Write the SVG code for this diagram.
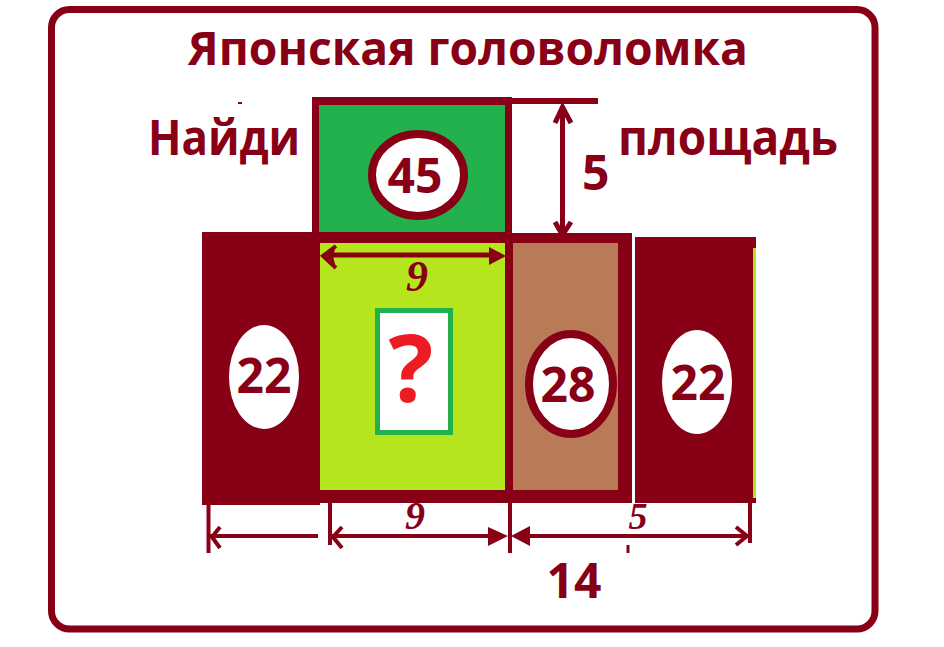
<svg xmlns="http://www.w3.org/2000/svg" width="944" height="647" viewBox="0 0 944 647">
<style>
.dr{fill:#880015}
.lbl{font-family:"Open Sans","Liberation Sans",sans-serif;font-weight:bold;fill:#880015}
.num{font-family:"Open Sans","Liberation Sans",sans-serif;font-weight:bold;fill:#880015;text-anchor:middle}
.it{font-family:"Liberation Serif","DejaVu Serif",serif;font-weight:bold;font-style:italic;fill:#880015;text-anchor:middle}
.ln{stroke:#880015;fill:none}
.ah{fill:#880015}
</style>
<rect x="51.5" y="9.5" width="823.5" height="619.5" rx="18" fill="#ffffff" stroke="#880015" stroke-width="7"/>
<text class="lbl" x="188" y="65" font-size="46" textLength="560" lengthAdjust="spacingAndGlyphs">Японская головоломка</text>
<text class="lbl" x="148" y="155" font-size="48" textLength="152" lengthAdjust="spacingAndGlyphs">Найди</text>
<text class="lbl" x="618" y="155" font-size="48" textLength="220" lengthAdjust="spacingAndGlyphs">площадь</text>
<rect x="238" y="102" width="4" height="2" class="dr"/>

<g id="box-green">
<rect x="312" y="97" width="200" height="146" class="dr"/>
<rect x="319" y="105" width="186" height="127" fill="#22B14C"/>
<ellipse cx="418" cy="175" rx="46" ry="41" fill="#ffffff" stroke="#880015" stroke-width="8"/>
<text class="num" x="415" y="193" font-size="48">45</text>
</g>

<g id="box-left">
<rect x="202" y="232" width="118" height="273" class="dr"/>
<ellipse cx="264" cy="377" rx="35" ry="52" fill="#ffffff"/>
<text class="num" x="264" y="393" font-size="48">22</text>
</g>

<g id="box-lime">
<rect x="312" y="232" width="200" height="271" class="dr"/>
<rect x="320" y="243" width="185" height="247" fill="#B5E61D"/>
<rect x="377.5" y="310.5" width="73" height="122" fill="#ffffff" stroke="#22B14C" stroke-width="5"/>
<text x="411" y="402" font-size="94" text-anchor="middle" font-family="'Open Sans','Liberation Sans',sans-serif" font-weight="bold" fill="#ED1C24">?</text>
</g>

<g id="box-brown">
<rect x="505" y="233" width="127" height="270" class="dr"/>
<rect x="513" y="243" width="105" height="247" fill="#B97A57"/>
<ellipse cx="571" cy="384" rx="42" ry="50" fill="#ffffff" stroke="#880015" stroke-width="8"/>
<text class="num" x="568" y="402" font-size="48">28</text>
</g>

<g id="box-right">
<rect x="635" y="237" width="121" height="266" class="dr"/>
<rect x="753" y="248" width="3" height="250" fill="#B5E61D"/>
<ellipse cx="697" cy="382" rx="35" ry="52" fill="#ffffff"/>
<text class="num" x="698" y="400" font-size="48">22</text>
</g>

<g id="connectors">
<line x1="312" y1="101" x2="598" y2="101" class="ln" stroke-width="6"/>
<line x1="562.5" y1="107" x2="562.5" y2="233" class="ln" stroke-width="5"/>
<polyline points="555,123 562.5,107 571,123" class="ln" stroke-width="5"/>
<polyline points="555,222 562.5,235 571,222" class="ln" stroke-width="5"/>
<line x1="325" y1="255" x2="500" y2="255" class="ln" stroke-width="5"/>
<polygon points="336,246 321,256 336,268 333,256" class="ah"/>
<polyline points="336,246 323,256 336,268" class="ln" stroke-width="4"/>
<polygon points="489,247 506,256 489,265" class="ah"/>

<line x1="208.5" y1="500" x2="208.5" y2="553" class="ln" stroke-width="4"/>
<line x1="330" y1="500" x2="330" y2="545" class="ln" stroke-width="4"/>
<line x1="510" y1="500" x2="510" y2="553" class="ln" stroke-width="4"/>
<line x1="750" y1="500" x2="750" y2="543" class="ln" stroke-width="4"/>
<line x1="628" y1="545" x2="628" y2="553" class="ln" stroke-width="3"/>
<line x1="210" y1="536" x2="318" y2="536" class="ln" stroke-width="4"/>
<line x1="332" y1="536" x2="500" y2="536" class="ln" stroke-width="4"/>
<line x1="520" y1="536" x2="747" y2="536" class="ln" stroke-width="4"/>
<polyline points="220,527 212,537 220,548" class="ln" stroke-width="4"/>
<polyline points="342,527 333,537 342,548" class="ln" stroke-width="4"/>
<polygon points="488,527 508,536 488,546" class="ah"/>
<polygon points="530,526 511,536 530,546" class="ah"/>
<polyline points="736,527 747,536 736,545" class="ln" stroke-width="4"/>
</g>
<text class="it" x="417" y="291" font-size="44">9</text>
<text class="it" x="415" y="529" font-size="40">9</text>
<text class="it" x="638" y="529" font-size="38">5</text>
<text class="lbl" x="582" y="190" font-size="48">5</text>
<text class="num" x="574" y="598" font-size="48">14</text>
</svg>
